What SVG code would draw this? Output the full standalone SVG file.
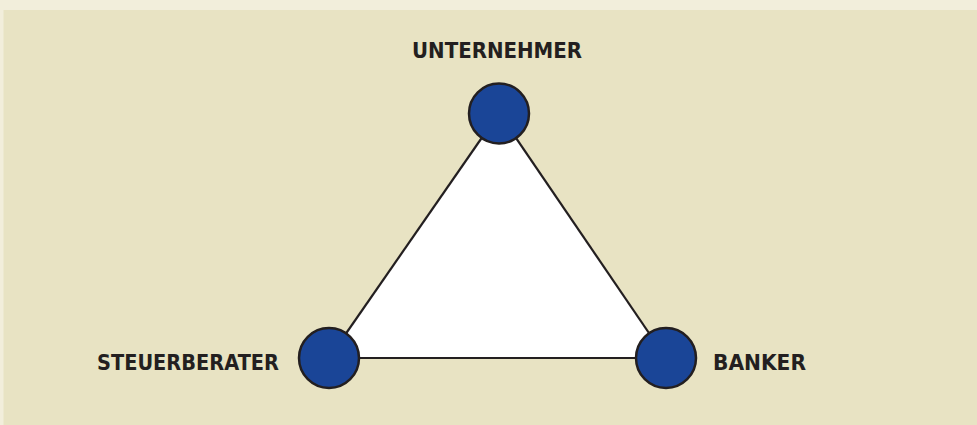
<svg xmlns="http://www.w3.org/2000/svg" width="977" height="425" viewBox="0 0 977 425">
<style>
.lbl{font-family:"DejaVu Sans","Liberation Sans",sans-serif;font-weight:bold;font-size:21.5px;fill:#231f20}
.node{fill:#1a4597;stroke:#231f20;stroke-width:2.5}
.edge{stroke:#231f20;stroke-width:2.2;fill:none}
</style>
<rect x="0" y="0" width="977" height="425" fill="#f2eedb"/>
<rect x="3.5" y="10" width="973.5" height="415" fill="#e8e3c3"/>
<g id="connectors">
<polygon points="499,113 329,358 666,358" fill="#ffffff" stroke="none"/>
<line class="edge" x1="499" y1="113" x2="329" y2="358"/>
<line class="edge" x1="499" y1="113" x2="666" y2="358"/>
<line class="edge" x1="329" y1="358" x2="666" y2="358"/>
</g>
<g id="unternehmer">
<circle class="node" cx="499" cy="113.5" r="30"/>
<text class="lbl" x="412" y="57.5" textLength="170" lengthAdjust="spacingAndGlyphs">UNTERNEHMER</text>
</g>
<g id="steuerberater">
<circle class="node" cx="329" cy="358" r="30"/>
<text class="lbl" x="97" y="369.5" textLength="182" lengthAdjust="spacingAndGlyphs">STEUERBERATER</text>
</g>
<g id="banker">
<circle class="node" cx="666" cy="358" r="30"/>
<text class="lbl" x="713" y="369.5" textLength="93" lengthAdjust="spacingAndGlyphs">BANKER</text>
</g>
</svg>
